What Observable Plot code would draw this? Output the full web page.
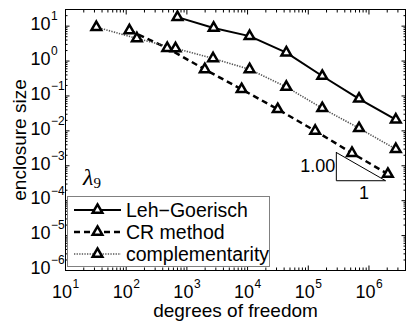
<!DOCTYPE html>
<html><head><meta charset="utf-8">
<script src="https://cdn.jsdelivr.net/npm/d3@7"></script>
<script src="https://cdn.jsdelivr.net/npm/@observablehq/plot@0.6"></script>
<style>body{margin:0;background:#fff} svg{display:block}</style>
</head><body><div id="chart"></div>
<script>
const seriesNames = ["Leh\u2212Goerisch", "CR method", "complementarity"];
const lehDof = [700, 2760, 10790, 43500, 170000, 686000, 2770000];
const lehSize = [18.1, 8.9, 5.18, 1.75, 0.373, 0.083, 0.0209];
const crDof = [113, 475, 1972, 7980, 31400, 130000, 525000, 2050000];
const crSize = [7.54, 2.35, 0.579, 0.155, 0.0417, 0.0100, 0.00231, 0.00058];
const compDof = [32.2, 150, 650, 2700, 10790, 43500, 170000, 686000, 2770000];
const compSize = [9.36, 4.45, 2.31, 1.19, 0.579, 0.181, 0.0445, 0.0119, 0.0030];
const xMajor = [1e1, 1e2, 1e3, 1e4, 1e5, 1e6];
const yMajor = [1e-6, 1e-5, 1e-4, 1e-3, 1e-2, 1e-1, 1e0, 1e1];
const slopeDof = [2.9e5, 2.9e5, 1.88e6, 2.9e5];
const slopeSize = [2.4e-3, 3.73e-4, 3.73e-4, 2.4e-3];
const slopeLabels = ["1.00", "1"];
const xLabel = "degrees of freedom";
const yLabel = "enclosure size";

const series = [
  {name: seriesNames[0], dof: lehDof, size: lehSize},
  {name: seriesNames[1], dof: crDof, size: crSize},
  {name: seriesNames[2], dof: compDof, size: compSize}
];
const styles = {
  [seriesNames[0]]: {stroke: "black", strokeWidth: 2, dash: null},
  [seriesNames[1]]: {stroke: "black", strokeWidth: 2.5, dash: "6,4"},
  [seriesNames[2]]: {stroke: "#555", strokeWidth: 1.6, dash: "1.3,1.3"}
};
const rows = series.flatMap(s => s.dof.map((x, i) => ({series: s.name, x, y: s.size[i]})));

function minors(lo, hi) {
  const out = [];
  for (let e = lo; e < hi; e++) for (let k = 2; k <= 9; k++) out.push(k * 10 ** e);
  return out;
}
const xMinor = minors(1, 7).filter(v => v <= 4e6);
const yMinor = minors(-6, 2).filter(v => v <= 30);
const expText = d => { const e = Math.round(Math.log10(d)); return e < 0 ? "\u2212" + (-e) : String(e); };
const blank = () => "";

const lineMarks = series.map(s => {
  const st = styles[s.name];
  return Plot.line(rows.filter(r => r.series === s.name), {
    x: "x", y: "y", stroke: st.stroke, strokeWidth: st.strokeWidth,
    strokeDasharray: st.dash, strokeLinecap: "butt"
  });
});

const plot = Plot.plot({
  width: 412, height: 321,
  marginLeft: 65, marginRight: 7, marginTop: 9, marginBottom: 51,
  x: {type: "log", domain: [10, 4e6]},
  y: {type: "log", domain: [1e-6, 30]},
  style: {fontFamily: "'Liberation Sans', Arial, sans-serif", fontSize: "18px", color: "black", background: "white"},
  marks: [
    Plot.axisX(xMinor, {anchor: "bottom", tickSize: -2.5, tickFormat: blank, label: null}),
    Plot.axisX(xMinor, {anchor: "top", tickSize: -2.5, tickFormat: blank, label: null}),
    Plot.axisX(xMajor, {anchor: "bottom", tickSize: -4.5, tickFormat: blank, label: null}),
    Plot.axisX(xMajor, {anchor: "top", tickSize: -4.5, tickFormat: blank, label: null}),
    Plot.axisY(yMinor, {anchor: "left", tickSize: -2.5, tickFormat: blank, label: null}),
    Plot.axisY(yMinor, {anchor: "right", tickSize: -2.5, tickFormat: blank, label: null}),
    Plot.axisY(yMajor, {anchor: "left", tickSize: -4.5, tickFormat: blank, label: null}),
    Plot.axisY(yMajor, {anchor: "right", tickSize: -4.5, tickFormat: blank, label: null}),
    Plot.frame({stroke: "black", strokeWidth: 1}),
    // tick labels
    Plot.text(xMajor, {x: d => d, frameAnchor: "bottom", lineAnchor: "middle", text: () => "10", dy: 21.5, dx: -3.5, fontSize: 18}),
    Plot.text(xMajor, {x: d => d, frameAnchor: "bottom", lineAnchor: "middle", text: expText, dy: 13.5, dx: 7, textAnchor: "start", fontSize: 12}),
    Plot.text(yMajor, {y: d => d, frameAnchor: "left", lineAnchor: "middle", text: () => "10", dx: -15, dy: -2, textAnchor: "end", fontSize: 18}),
    Plot.text(yMajor, {y: d => d, frameAnchor: "left", lineAnchor: "middle", text: expText, dx: -14.5, dy: -10, textAnchor: "start", fontSize: 12}),
    Plot.text([xLabel], {frameAnchor: "bottom", lineAnchor: "middle", text: d => d, dy: 40, fontSize: 19}),
    Plot.text([yLabel], {frameAnchor: "left", lineAnchor: "middle", textAnchor: "middle", text: d => d, dx: -46, rotate: -90, fontSize: 19}),
    // slope triangle
    Plot.line(slopeDof.map((x, i) => ({x, y: slopeSize[i]})), {x: "x", y: "y", stroke: "black", strokeWidth: 1}),
    Plot.text([slopeLabels[0]], {x: () => slopeDof[0], y: () => Math.sqrt(slopeSize[0] * slopeSize[1]), text: d => d, textAnchor: "end", dx: -1, fontSize: 18}),
    Plot.text([slopeLabels[1]], {x: () => Math.sqrt(slopeDof[1] * slopeDof[2]), y: () => slopeSize[1], text: d => d, dy: 13, dx: 3, fontSize: 18}),
    ...lineMarks,
    Plot.dot(rows, {x: "x", y: "y", symbol: "triangle", r: 3.6, stroke: "black", strokeWidth: 2.5, fill: "white"})
  ]
});
document.getElementById("chart").append(plot);

// legend + lambda label
const svg = d3.select(plot);
const lg = svg.append("g").attr("class", "legend").attr("text-anchor", "start");
lg.append("rect").attr("x", 67.5).attr("y", 196.5).attr("width", 202).attr("height", 70)
  .attr("fill", "white").attr("stroke", "#808080").attr("stroke-width", 1);
const tri = d3.symbol(d3.symbolTriangle, 3.6 * 3.6 * Math.PI)();
seriesNames.forEach((name, i) => {
  const st = styles[name];
  const y = 210 + i * 22;
  lg.append("line").attr("x1", 74).attr("x2", 121).attr("y1", y).attr("y2", y)
    .attr("stroke", st.stroke).attr("stroke-width", st.strokeWidth)
    .attr("stroke-dasharray", st.dash);
  lg.append("path").attr("d", tri).attr("transform", `translate(97.5,${y})`)
    .attr("fill", "white").attr("stroke", "black").attr("stroke-width", 2.5);
  lg.append("text").attr("x", 126).attr("y", y).attr("dy", "0.35em")
    .attr("text-anchor", "start").attr("font-size", 19.5).attr("fill", "black").text(name);
});
const lam = svg.append("text").attr("x", 83).attr("y", 185).attr("text-anchor", "start")
  .attr("font-family", "'Liberation Serif', 'DejaVu Serif', serif").attr("font-size", 24).attr("fill", "black");
lam.append("tspan").attr("font-style", "italic").text("\u03bb");
lam.append("tspan").attr("font-size", 15).attr("dy", 3).text("9");
</script>
</body></html>
